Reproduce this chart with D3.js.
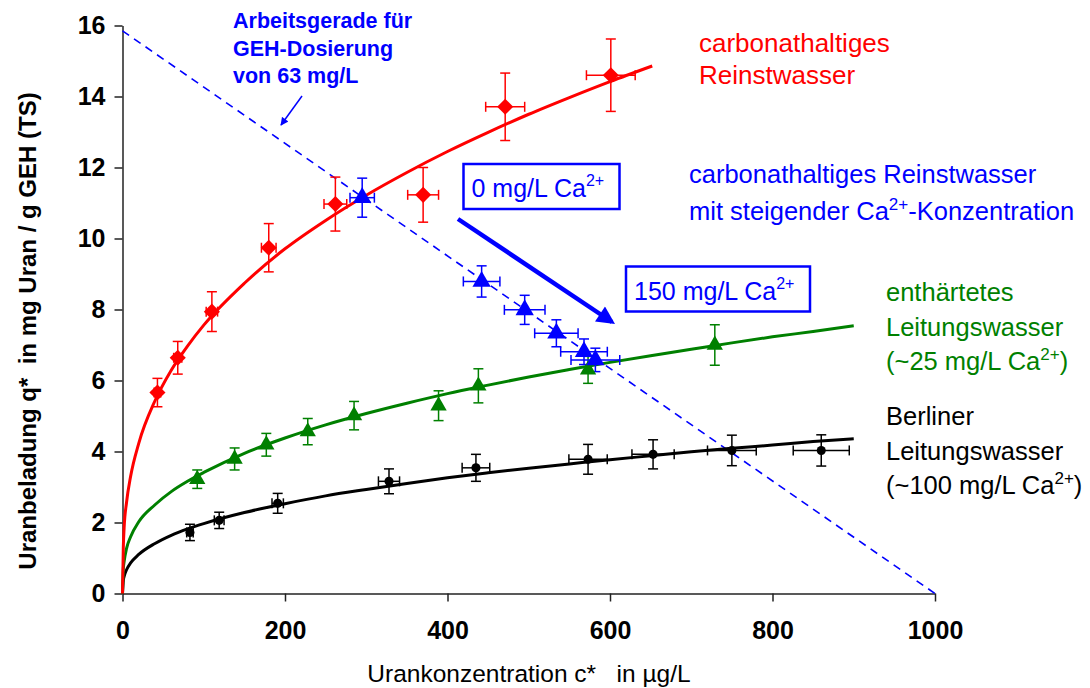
<!DOCTYPE html>
<html>
<head>
<meta charset="utf-8">
<script src="https://cdn.jsdelivr.net/npm/d3@7"></script>
<style>
  body { margin: 0; background: #fff; }
  svg { font-family: "Liberation Sans", Arial, sans-serif; }
</style>
</head>
<body>
<svg id="chart" width="1090" height="688"></svg>
<script>
// axis ticks
const xTicks = [0, 200, 400, 600, 800, 1000];
const yTicks = [0, 2, 4, 6, 8, 10, 12, 14, 16];

// carbonathaltiges Reinstwasser (red diamonds)
const redC = [43, 68, 110, 180, 262, 370, 471, 601];
const redQ = [5.66, 6.64, 7.94, 9.74, 10.97, 11.23, 13.71, 14.6];
const redCErr = [4, 5, 7, 9, 14, 19, 24, 30];
const redQErr = [0.4, 0.46, 0.56, 0.68, 0.76, 0.77, 0.95, 1.02];

// carbonathaltiges Reinstwasser mit Ca2+ (blue triangles)
const blueC = [295, 442, 495, 534, 568, 582];
const blueQ = [11.15, 8.79, 7.99, 7.33, 6.81, 6.58];
const blueCErr = [15, 22.5, 25, 26.7, 28.7, 30];
const blueQErr = [0.55, 0.44, 0.41, 0.38, 0.36, 0.33];

// enthaertetes Leitungswasser (green triangles)
const greenC = [92, 138, 177, 228, 285, 389, 438, 573, 729];
const greenQ = [3.22, 3.79, 4.19, 4.56, 5.01, 5.29, 5.85, 6.3, 7.0];
const greenQErr = [0.26, 0.31, 0.32, 0.37, 0.4, 0.42, 0.48, 0.38, 0.57];

// Berliner Leitungswasser (black circles)
const blackC = [83, 119, 191, 328, 435, 573, 653, 750, 860];
const blackQ = [1.72, 2.06, 2.54, 3.16, 3.54, 3.78, 3.92, 4.03, 4.03];
const blackCErr = [4, 6, 7, 13, 17, 23.6, 26, 30, 34.5];
const blackQErr = [0.23, 0.23, 0.28, 0.35, 0.38, 0.42, 0.41, 0.43, 0.44];

// fitted isotherms
const redFitC = [0, 1, 2, 5, 10, 20, 40, 60, 80, 100, 150, 200, 250, 300, 350, 400, 450, 500, 550, 600, 652];
const redFitQ = [0, 1.3, 1.85, 2.57, 3.3, 4.23, 5.43, 6.29, 6.97, 7.56, 8.74, 9.71, 10.51, 11.22, 11.86, 12.45, 12.99, 13.5, 13.97, 14.42, 14.86];
const greenFitC = [0, 1, 2, 5, 10, 20, 40, 60, 80, 100, 150, 200, 250, 300, 350, 400, 450, 500, 550, 600, 650, 700, 750, 800, 850, 900];
const greenFitQ = [0, 0.7, 0.9, 1.27, 1.6, 2.02, 2.5, 2.87, 3.16, 3.41, 3.95, 4.38, 4.75, 5.07, 5.36, 5.63, 5.87, 6.1, 6.31, 6.51, 6.7, 6.88, 7.06, 7.23, 7.38, 7.54];
const blackFitC = [0, 1, 2, 5, 10, 20, 40, 60, 80, 100, 150, 200, 250, 300, 350, 400, 450, 500, 550, 600, 650, 700, 750, 800, 850, 900];
const blackFitQ = [0, 0.37, 0.48, 0.67, 0.86, 1.1, 1.41, 1.64, 1.82, 1.97, 2.28, 2.53, 2.75, 2.93, 3.1, 3.26, 3.4, 3.53, 3.65, 3.77, 3.88, 3.99, 4.09, 4.18, 4.28, 4.36];

// Arbeitsgerade (GEH dosage 63 mg/L)
const lineC = [0, 1000];
const lineQ = [15.85, 0];

const svg = d3.select('#chart');

const x = d3.scaleLinear().domain([0, 1000]).range([122.5, 935]);
const y = d3.scaleLinear().domain([0, 16]).range([593.5, 25.5]);

// axes
const xAxis = svg.append('g')
  .attr('transform', `translate(0,${y(0)})`)
  .call(d3.axisBottom(x).tickValues(xTicks).tickFormat(d3.format('d'))
    .tickSize(8).tickSizeOuter(0).tickPadding(20));
const yAxis = svg.append('g')
  .attr('transform', `translate(${x(0)},0)`)
  .call(d3.axisLeft(y).tickValues(yTicks).tickSize(8).tickSizeOuter(0).tickPadding(9));

[xAxis, yAxis].forEach(a => {
  a.select('.domain').attr('stroke', '#222').attr('stroke-width', 1.5);
  a.selectAll('.tick line').attr('stroke', '#222').attr('stroke-width', 1.5);
  a.selectAll('.tick text')
    .attr('fill', '#000')
    .style('font-size', '25px')
    .style('font-weight', 'bold');
});

// axis titles
svg.append('text')
  .attr('transform', `translate(36,331) rotate(-90)`)
  .attr('text-anchor', 'middle')
  .style('font-size', '24px')
  .style('font-weight', 'bold')
  .attr('xml:space', 'preserve')
  .text('Uranbeladung q*  in mg Uran / g GEH (TS)');

svg.append('text')
  .attr('x', 529)
  .attr('y', 682)
  .attr('text-anchor', 'middle')
  .style('font-size', '24.5px')
  .attr('xml:space', 'preserve')
  .text('Urankonzentration c*   in µg/L');

// arrowhead markers
const defs = svg.append('defs');
defs.append('marker')
  .attr('id', 'headSmall')
  .attr('viewBox', '0 0 10 10')
  .attr('refX', 9).attr('refY', 5)
  .attr('markerWidth', 9).attr('markerHeight', 8)
  .attr('markerUnits', 'userSpaceOnUse')
  .attr('orient', 'auto')
  .append('path').attr('d', 'M0,0 L10,5 L0,10 Z').attr('fill', '#0000ff');
defs.append('marker')
  .attr('id', 'headBig')
  .attr('viewBox', '0 0 10 10')
  .attr('refX', 8).attr('refY', 5)
  .attr('markerWidth', 24).attr('markerHeight', 18)
  .attr('markerUnits', 'userSpaceOnUse')
  .attr('orient', 'auto')
  .append('path').attr('d', 'M0,0 L10,5 L0,10 Z').attr('fill', '#0000ff');

// dashed Arbeitsgerade
svg.append('line')
  .attr('x1', x(lineC[0])).attr('y1', y(lineQ[0]))
  .attr('x2', x(lineC[1])).attr('y2', y(lineQ[1]))
  .attr('stroke', '#0000ff')
  .attr('stroke-width', 1.6)
  .attr('stroke-dasharray', '8,6');

const line = d3.line().x(d => x(d[0])).y(d => y(d[1])).curve(d3.curveMonotoneX);

function fit(cs, qs, color) {
  svg.append('path')
    .datum(cs.map((c, i) => [c, qs[i]]))
    .attr('d', line)
    .attr('fill', 'none')
    .attr('stroke', color)
    .attr('stroke-width', 3);
}

function errorBars(cs, qs, cErr, qErr, color) {
  const g = svg.append('g').attr('stroke', color).attr('stroke-width', 1.5);
  const cap = 5;
  cs.forEach((c, i) => {
    const px = x(c), py = y(qs[i]);
    if (qErr && qErr[i]) {
      const y1 = y(qs[i] + qErr[i]), y2 = y(qs[i] - qErr[i]);
      g.append('line').attr('x1', px).attr('x2', px).attr('y1', y1).attr('y2', y2);
      g.append('line').attr('x1', px - cap).attr('x2', px + cap).attr('y1', y1).attr('y2', y1);
      g.append('line').attr('x1', px - cap).attr('x2', px + cap).attr('y1', y2).attr('y2', y2);
    }
    if (cErr && cErr[i]) {
      const x1 = x(c - cErr[i]), x2 = x(c + cErr[i]);
      g.append('line').attr('x1', x1).attr('x2', x2).attr('y1', py).attr('y2', py);
      g.append('line').attr('x1', x1).attr('x2', x1).attr('y1', py - cap).attr('y2', py + cap);
      g.append('line').attr('x1', x2).attr('x2', x2).attr('y1', py - cap).attr('y2', py + cap);
    }
  });
}

function markers(cs, qs, type, size, color) {
  svg.append('g').selectAll('path')
    .data(cs.map((c, i) => [c, qs[i]]))
    .join('path')
    .attr('transform', d => `translate(${x(d[0])},${y(d[1])})`)
    .attr('d', d3.symbol().type(type).size(size))
    .attr('fill', color);
}

fit(blackFitC, blackFitQ, '#000');
fit(greenFitC, greenFitQ, '#008000');
fit(redFitC, redFitQ, '#ff0000');

errorBars(blackC, blackQ, blackCErr, blackQErr, '#000');
errorBars(greenC, greenQ, null, greenQErr, '#008000');
errorBars(redC, redQ, redCErr, redQErr, '#ff0000');
errorBars(blueC, blueQ, blueCErr, blueQErr, '#0000ff');

markers(blackC, blackQ, d3.symbolCircle, 65, '#000');
markers(greenC, greenQ, d3.symbolTriangle, 115, '#008000');
markers(redC, redQ, d3.symbolDiamond2, 165, '#ff0000');
markers(blueC, blueQ, d3.symbolTriangle, 145, '#0000ff');

// annotation: Arbeitsgerade
const ann = svg.append('text')
  .attr('fill', '#0000ff')
  .style('font-size', '21.5px')
  .style('font-weight', 'bold');
['Arbeitsgerade für', 'GEH-Dosierung', 'von 63 mg/L'].forEach((t, i) => {
  ann.append('tspan').attr('x', 233).attr('y', 28 + i * 27.5).text(t);
});
svg.append('line')
  .attr('x1', 302).attr('y1', 96).attr('x2', 281).attr('y2', 125)
  .attr('stroke', '#0000ff').attr('stroke-width', 1.5)
  .attr('marker-end', 'url(#headSmall)');

// big arrow between the Ca boxes
svg.append('line')
  .attr('x1', 458).attr('y1', 219).attr('x2', 612).attr('y2', 322)
  .attr('stroke', '#0000ff').attr('stroke-width', 4.5)
  .attr('marker-end', 'url(#headBig)');

function caBox(bx, by, bw, bh, text) {
  svg.append('rect')
    .attr('x', bx).attr('y', by).attr('width', bw).attr('height', bh)
    .attr('fill', '#fff').attr('stroke', '#0000ff').attr('stroke-width', 2.5);
  const t = svg.append('text')
    .attr('x', bx + 8).attr('y', by + 33)
    .attr('fill', '#0000ff')
    .style('font-size', '25px');
  t.append('tspan').text(text + ' Ca');
  t.append('tspan').attr('dy', -11).style('font-size', '16px').text('2+');
}
caBox(463.5, 164, 156, 45, '0 mg/L');
caBox(626, 266.5, 184, 45, '150 mg/L');

// series labels; '^' marks the superscript part
function seriesLabel(lines, lx, ly, dy, color, size) {
  lines.forEach((parts, i) => {
    const t = svg.append('text')
      .attr('x', lx).attr('y', ly + i * dy)
      .attr('fill', color)
      .style('font-size', size + 'px');
    let raised = false;
    parts.forEach(p => {
      if (p.startsWith('^')) {
        t.append('tspan').attr('dy', -10).style('font-size', '17px').text(p.slice(1));
        raised = true;
      } else {
        t.append('tspan').attr('dy', raised ? 10 : 0).text(p);
        raised = false;
      }
    });
  });
}
seriesLabel([['carbonathaltiges'], ['Reinstwasser']], 699, 52, 31.5, '#ff0000', 26);
seriesLabel([['carbonathaltiges Reinstwasser'], ['mit steigender Ca', '^2+', '-Konzentration']], 689, 183, 37, '#0000ff', 25.5);
seriesLabel([['enthärtetes'], ['Leitungswasser'], ['(~25 mg/L Ca', '^2+', ')']], 886, 301, 34.5, '#008000', 25.5);
seriesLabel([['Berliner'], ['Leitungswasser'], ['(~100 mg/L Ca', '^2+', ')']], 886, 425, 34.5, '#000', 25.5);
</script>
</body>
</html>
